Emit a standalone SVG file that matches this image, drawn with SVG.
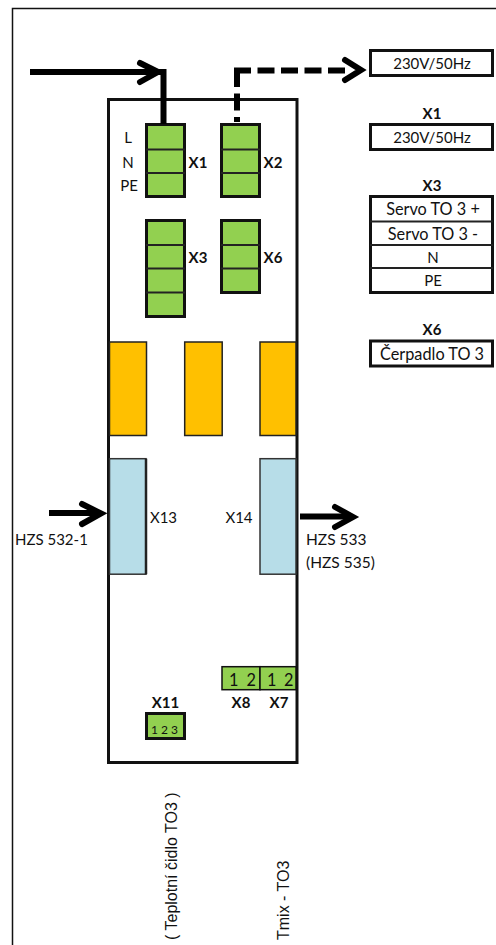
<svg xmlns="http://www.w3.org/2000/svg" width="496" height="945" viewBox="0 0 496 945">
<style>
text{font-family:Lato,"Liberation Sans",sans-serif;font-size:15px;fill:#111}
.m{text-anchor:middle}
.b{font-weight:700}
.s{font-size:16.300px}
.g{fill:#92d050;stroke:#111;stroke-width:3}
.d{fill:none;stroke:#222;stroke-width:1.800}
.o{fill:#ffc000;stroke:#222;stroke-width:1.500}
.l{fill:#b7dde8;stroke:#333;stroke-width:1.500}
.w{fill:#fff;stroke:#111;stroke-width:3}
.a{fill:none;stroke:#000;stroke-width:6}
.h{fill:none;stroke:#000;stroke-width:6;stroke-linecap:round;stroke-linejoin:miter}
.r{font-family:"Liberation Sans",sans-serif;font-size:16px}
.t{stroke-dasharray:17 6.500}
</style>
<rect width="496" height="945" fill="#fff"/>
<path d="M12.500 945V8.500H496" fill="none" stroke="#111" stroke-width="1.500"/>
<g id="main"><rect x="108.500" y="99.500" width="188.500" height="663" fill="#fff" stroke="#111" stroke-width="3"/></g>
<g id="X1"><rect class="g" x="146.500" y="124.500" width="38" height="72"/><path class="d" d="M146 149.500H185M146 173H185"/>
<text class="m" x="128" y="143">L</text><text class="m" x="128" y="168">N</text><text class="m" x="129" y="191">PE</text><text class="m b" x="198" y="168">X1</text></g>
<g id="X2"><rect class="g" x="221.500" y="124.500" width="38" height="72"/><path class="d" d="M221 149.500H260M221 173H260"/><text class="m b" x="273" y="168">X2</text></g>
<g id="X3"><rect class="g" x="146.500" y="220.500" width="38" height="96"/><path class="d" d="M146 245H185M146 268.500H185M146 292.500H185"/><text class="m b" x="198" y="263">X3</text></g>
<g id="X6"><rect class="g" x="221.500" y="220.500" width="38" height="72"/><path class="d" d="M221 245H260M221 268.500H260"/><text class="m b" x="273" y="263">X6</text></g>
<g id="relay1"><rect class="o" x="109.500" y="342" width="37" height="93.500"/></g>
<g id="relay2"><rect class="o" x="184.700" y="342" width="37.500" height="93.500"/></g>
<g id="relay3"><rect class="o" x="260" y="342" width="36" height="93.500"/></g>
<g id="X13"><rect class="l" x="109.500" y="458.700" width="36.500" height="115.500"/><path d="M146 458.700V574.200" stroke="#222" stroke-width="2.500"/><text class="m" x="163.500" y="523">X13</text></g>
<g id="X14"><rect class="l" x="260" y="458.700" width="36" height="115.500"/><text class="m" x="239" y="523">X14</text></g>
<g id="X8"><rect class="g" style="stroke-width:1.500" x="222" y="666.700" width="38" height="23"/><text x="229" y="686" class="s">1</text><text x="246.500" y="686" class="s">2</text><text class="m b" x="241" y="708">X8</text></g>
<g id="X7"><rect class="g" style="stroke-width:1.500" x="260" y="666.700" width="36" height="23"/><text x="267" y="686" class="s">1</text><text x="284" y="686" class="s">2</text><text class="m b" x="279" y="708">X7</text></g>
<g id="X11"><rect class="g" x="146.500" y="713.500" width="38" height="25"/><text x="151" y="733.500" style="font-size:12px">1</text><text x="161" y="733.500" style="font-size:12px">2</text><text x="171" y="733.500" style="font-size:12px">3</text><text class="m b" x="165.500" y="708">X11</text></g>
<g id="supply-top"><rect class="w" x="370.500" y="50.500" width="122" height="25"/><text class="m" x="432" y="69">230V/50Hz</text></g>
<g id="legend-X1"><text class="m b" x="432" y="119">X1</text><rect class="w" x="370.500" y="124.500" width="122" height="25"/><text class="m" x="432" y="143">230V/50Hz</text></g>
<g id="legend-X3"><text class="m b" x="432" y="191">X3</text><rect class="w" x="370.500" y="196.500" width="122" height="96"/><path class="d" d="M370 221.500H493M370 245H493M370 268H493"/>
<text class="m s" x="433" y="215">Servo TO 3 +</text><text class="m s" x="433" y="240">Servo TO 3 -</text><text class="m" x="433" y="263">N</text><text class="m" x="433" y="286">PE</text></g>
<g id="legend-X6"><text class="m b" x="432" y="335">X6</text><rect class="w" x="370.500" y="341" width="122" height="25"/><text class="m s" x="432" y="360">Čerpadlo TO 3</text></g>
<g id="connectors">
<path class="a" d="M30 72H163.500V124"/><path class="h" d="M140 63L158 72L140 82"/>
<path class="a t" d="M237 70V122"/><path class="a t" d="M234 70.500H350"/><path class="h" d="M345 60L361 70L345 80"/>
<path class="a" d="M49 513H100"/><path class="h" d="M82 504L101 513.500L82 524"/>
<path class="a" d="M300 516.500H350"/><path class="h" d="M335 507L353 517L335 527"/>
</g>
<g id="labels">
<text x="15" y="545">HZS 532-1</text><text x="306" y="545" style="font-size:15.500px">HZS 533</text><text x="306" y="568" style="font-size:15.500px">(HZS 535)</text>
<text class="r" transform="translate(176.500 940) rotate(-90)">( Teplotní čidlo TO3 )</text>
<text class="r" transform="translate(288.500 940) rotate(-90)">Tmix - TO3</text>
</g>
</svg>
